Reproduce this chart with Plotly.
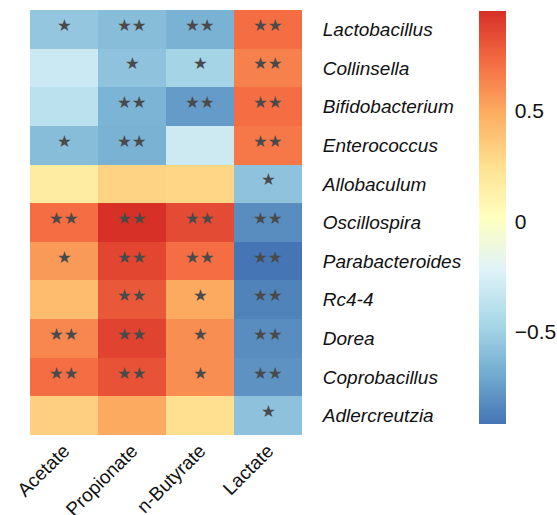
import plotly.graph_objects as go

# Correlation between bacterial genera and short-chain fatty acids
acids = ["Acetate", "Propionate", "n-Butyrate", "Lactate"]
genera = ["Lactobacillus", "Collinsella", "Bifidobacterium", "Enterococcus",
          "Allobaculum", "Oscillospira", "Parabacteroides", "Rc4-4",
          "Dorea", "Coprobacillus", "Adlercreutzia"]

acetate = [-0.55, -0.31, -0.38, -0.60, 0.16, 0.72, 0.56, 0.42, 0.63, 0.72, 0.33]
propionate = [-0.60, -0.57, -0.65, -0.66, 0.31, 0.955, 0.87, 0.80, 0.88, 0.82, 0.50]
butyrate = [-0.66, -0.48, -0.76, -0.30, 0.30, 0.85, 0.72, 0.50, 0.60, 0.60, 0.25]
lactate = [0.72, 0.65, 0.72, 0.68, -0.57, -0.82, -0.92, -0.86, -0.82, -0.80, -0.58]

# significance marks (one star: p<0.05, two stars: p<0.01)
sig_acetate = [1, 0, 0, 1, 0, 2, 1, 0, 2, 2, 0]
sig_propionate = [2, 1, 2, 2, 0, 2, 2, 2, 2, 2, 0]
sig_butyrate = [2, 1, 2, 0, 0, 2, 2, 1, 1, 1, 0]
sig_lactate = [2, 2, 2, 2, 1, 2, 2, 2, 2, 2, 1]

cbar_ticks = [-0.5, 0, 0.5]
cbar_labels = ["\u22120.5", "0", "0.5"]

cols = [acetate, propionate, butyrate, lactate]
sigs = [sig_acetate, sig_propionate, sig_butyrate, sig_lactate]
z = [[c[i] for c in cols] for i in range(len(genera))]

rdylbu = ["#4575b4", "#74add1", "#abd9e9", "#e0f3f8", "#ffffbf",
          "#fee090", "#fdae61", "#f46d43", "#d73027"]
colorscale = [[i / (len(rdylbu) - 1), c] for i, c in enumerate(rdylbu)]

font_family = "Liberation Sans, Arial"

fig = go.Figure(go.Heatmap(
    z=z, x=acids, y=genera,
    colorscale=colorscale,
    hoverinfo="skip",
    colorbar=dict(
        thickness=27, len=413, lenmode="pixels",
        x=1.651, xanchor="left", xpad=0,
        y=0.998, yanchor="top", ypad=0,
        outlinewidth=0,
        tickvals=cbar_ticks, ticktext=cbar_labels,
        ticks="outside", ticklen=5, tickcolor="rgba(0,0,0,0)",
        tickfont=dict(size=21, color="#111", family=font_family),
    ),
))

# star marks, nudged a little above the cell centre
for j, acid in enumerate(acids):
    for i, genus in enumerate(genera):
        n = sigs[j][i]
        if n:
            fig.add_annotation(
                x=acid, y=genus, text="\u2605" * n, showarrow=False,
                yshift=4, font=dict(size=16.5, color="#4a4a4a", family="DejaVu Sans"),
            )

fig.update_xaxes(
    tickangle=-45, showgrid=False, zeroline=False, showline=False,
    automargin=False, ticks="",
    tickfont=dict(size=19, color="#111", family=font_family),
)
fig.update_yaxes(
    side="right", autorange="reversed", showgrid=False, zeroline=False,
    automargin=False,
    ticks="outside", ticklen=16, tickcolor="rgba(0,0,0,0)",
    tickfont=dict(size=19, color="#111", family=font_family),
    tickmode="array", tickvals=genera,
    ticktext=["<i>%s</i>" % g for g in genera],
)

fig.update_layout(
    width=557, height=515,
    margin=dict(l=30, r=255, t=10, b=80, autoexpand=False),
    paper_bgcolor="white", plot_bgcolor="white",
)

fig.write_html("out.html")
